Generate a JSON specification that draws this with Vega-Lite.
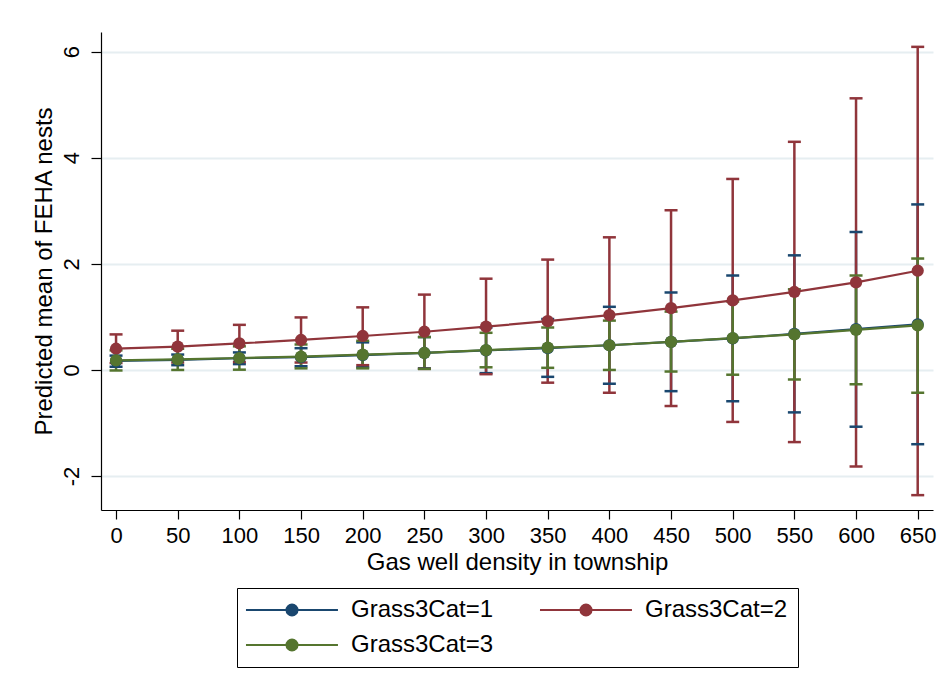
{
  "$schema": "https://vega.github.io/schema/vega-lite/v6.json",
  "width": 832,
  "height": 478,
  "autosize": {"type": "none"},
  "padding": {"left": 101, "top": 32, "right": 12, "bottom": 183},
  "background": "white",
  "config": {
    "view": {"stroke": null},
    "font": "Liberation Sans",
    "axis": {
      "labelFont": "Liberation Sans",
      "titleFont": "Liberation Sans",
      "labelColor": "black",
      "titleColor": "black",
      "titleFontWeight": "normal",
      "domainColor": "black",
      "tickColor": "black",
      "domainWidth": 1.2,
      "tickWidth": 1.2
    }
  },
  "data": {
    "values": [
      {"g": "Grass3Cat=1", "x": 0, "m": 0.17, "lo": 0.06, "hi": 0.27},
      {"g": "Grass3Cat=1", "x": 50, "m": 0.19, "lo": 0.09, "hi": 0.29},
      {"g": "Grass3Cat=1", "x": 100, "m": 0.22, "lo": 0.11, "hi": 0.33},
      {"g": "Grass3Cat=1", "x": 150, "m": 0.24, "lo": 0.07, "hi": 0.41},
      {"g": "Grass3Cat=1", "x": 200, "m": 0.28, "lo": 0.05, "hi": 0.52},
      {"g": "Grass3Cat=1", "x": 250, "m": 0.32, "lo": 0.03, "hi": 0.62},
      {"g": "Grass3Cat=1", "x": 300, "m": 0.37, "lo": -0.06, "hi": 0.80},
      {"g": "Grass3Cat=1", "x": 350, "m": 0.41, "lo": -0.13, "hi": 0.96},
      {"g": "Grass3Cat=1", "x": 400, "m": 0.465, "lo": -0.26, "hi": 1.19},
      {"g": "Grass3Cat=1", "x": 450, "m": 0.53, "lo": -0.40, "hi": 1.46},
      {"g": "Grass3Cat=1", "x": 500, "m": 0.595, "lo": -0.59, "hi": 1.78},
      {"g": "Grass3Cat=1", "x": 550, "m": 0.68, "lo": -0.80, "hi": 2.16},
      {"g": "Grass3Cat=1", "x": 600, "m": 0.77, "lo": -1.07, "hi": 2.60},
      {"g": "Grass3Cat=1", "x": 650, "m": 0.86, "lo": -1.40, "hi": 3.12},
      {"g": "Grass3Cat=2", "x": 0, "m": 0.40, "lo": 0.13, "hi": 0.67},
      {"g": "Grass3Cat=2", "x": 50, "m": 0.44, "lo": 0.14, "hi": 0.74},
      {"g": "Grass3Cat=2", "x": 100, "m": 0.50, "lo": 0.15, "hi": 0.85},
      {"g": "Grass3Cat=2", "x": 150, "m": 0.565, "lo": 0.14, "hi": 0.99},
      {"g": "Grass3Cat=2", "x": 200, "m": 0.64, "lo": 0.09, "hi": 1.18},
      {"g": "Grass3Cat=2", "x": 250, "m": 0.72, "lo": 0.02, "hi": 1.42},
      {"g": "Grass3Cat=2", "x": 300, "m": 0.815, "lo": -0.08, "hi": 1.72},
      {"g": "Grass3Cat=2", "x": 350, "m": 0.92, "lo": -0.24, "hi": 2.08},
      {"g": "Grass3Cat=2", "x": 400, "m": 1.035, "lo": -0.43, "hi": 2.50},
      {"g": "Grass3Cat=2", "x": 450, "m": 1.165, "lo": -0.68, "hi": 3.01},
      {"g": "Grass3Cat=2", "x": 500, "m": 1.31, "lo": -0.98, "hi": 3.60},
      {"g": "Grass3Cat=2", "x": 550, "m": 1.47, "lo": -1.36, "hi": 4.30},
      {"g": "Grass3Cat=2", "x": 600, "m": 1.65, "lo": -1.82, "hi": 5.12},
      {"g": "Grass3Cat=2", "x": 650, "m": 1.87, "lo": -2.36, "hi": 6.09},
      {"g": "Grass3Cat=3", "x": 0, "m": 0.18, "lo": -0.01, "hi": 0.37},
      {"g": "Grass3Cat=3", "x": 50, "m": 0.20, "lo": 0.00, "hi": 0.40},
      {"g": "Grass3Cat=3", "x": 100, "m": 0.225, "lo": 0.005, "hi": 0.445},
      {"g": "Grass3Cat=3", "x": 150, "m": 0.25, "lo": 0.03, "hi": 0.48},
      {"g": "Grass3Cat=3", "x": 200, "m": 0.29, "lo": 0.03, "hi": 0.55},
      {"g": "Grass3Cat=3", "x": 250, "m": 0.32, "lo": 0.02, "hi": 0.62},
      {"g": "Grass3Cat=3", "x": 300, "m": 0.375, "lo": 0.05, "hi": 0.70},
      {"g": "Grass3Cat=3", "x": 350, "m": 0.42, "lo": 0.04, "hi": 0.80},
      {"g": "Grass3Cat=3", "x": 400, "m": 0.465, "lo": 0.00, "hi": 0.93},
      {"g": "Grass3Cat=3", "x": 450, "m": 0.53, "lo": -0.03, "hi": 1.10},
      {"g": "Grass3Cat=3", "x": 500, "m": 0.60, "lo": -0.09, "hi": 1.29},
      {"g": "Grass3Cat=3", "x": 550, "m": 0.67, "lo": -0.18, "hi": 1.52},
      {"g": "Grass3Cat=3", "x": 600, "m": 0.755, "lo": -0.27, "hi": 1.78},
      {"g": "Grass3Cat=3", "x": 650, "m": 0.84, "lo": -0.43, "hi": 2.10}
    ]
  },
  "encoding": {
    "x": {
      "field": "x", "type": "quantitative",
      "scale": {"domain": [-12.2, 662.4], "nice": false, "zero": false},
      "axis": {
        "values": [0, 50, 100, 150, 200, 250, 300, 350, 400, 450, 500, 550, 600, 650],
        "grid": false, "tickSize": 9, "labelFontSize": 22, "labelPadding": 6,
        "title": "Gas well density in township", "titleFontSize": 24, "titlePadding": 4
      }
    },
    "color": {
      "field": "g", "type": "nominal",
      "scale": {"domain": ["Grass3Cat=1", "Grass3Cat=2", "Grass3Cat=3"], "range": ["#1a476f", "#90353b", "#55752f"]},
      "legend": {
        "title": null, "orient": "none", "legendX": 136, "legendY": 556,
        "columns": 2, "direction": "horizontal",
        "symbolType": "M-2.17,0L13.16,0M6.42,0A0.92,0.92,0,1,1,4.58,0A0.92,0.92,0,1,1,6.42,0Z",
        "symbolSize": 144, "symbolStrokeWidth": 2,
        "labelFont": "Liberation Sans", "labelFontSize": 24, "labelColor": "black",
        "labelOffset": 80, "columnPadding": 41, "rowPadding": 11, "padding": 10,
        "strokeColor": "black", "fillColor": "white",
        "labelLimit": 300
      }
    }
  },
  "layer": [
    {
      "mark": {"type": "rule", "strokeWidth": 2.5},
      "encoding": {
        "y": {
          "field": "lo", "type": "quantitative",
          "scale": {"domain": [-2.64, 6.37], "nice": false, "zero": false},
          "axis": {
            "values": [-2, 0, 2, 4, 6], "grid": true, "gridColor": "#e6eef1", "gridWidth": 2,
            "tickSize": 10, "labelFontSize": 22, "labelAngle": 270, "labelPadding": 8,
            "labelExpr": "replace(datum.label, '\u2212', '-')",
            "title": "Predicted mean of FEHA nests", "titleFontSize": 24, "titlePadding": 4
          }
        },
        "y2": {"field": "hi"}
      }
    },
    {
      "mark": {"type": "tick", "orient": "horizontal", "size": 13, "thickness": 2.5, "opacity": 1},
      "encoding": {
        "y": {"field": "lo", "type": "quantitative"}
      }
    },
    {
      "mark": {"type": "tick", "orient": "horizontal", "size": 13, "thickness": 2.5, "opacity": 1},
      "encoding": {
        "y": {"field": "hi", "type": "quantitative"}
      }
    },
    {
      "mark": {"type": "line", "strokeWidth": 2.2},
      "encoding": {
        "y": {"field": "m", "type": "quantitative"}
      }
    },
    {
      "mark": {"type": "point", "filled": true, "shape": "circle", "size": 150, "opacity": 1},
      "encoding": {
        "y": {"field": "m", "type": "quantitative"}
      }
    }
  ]
}
